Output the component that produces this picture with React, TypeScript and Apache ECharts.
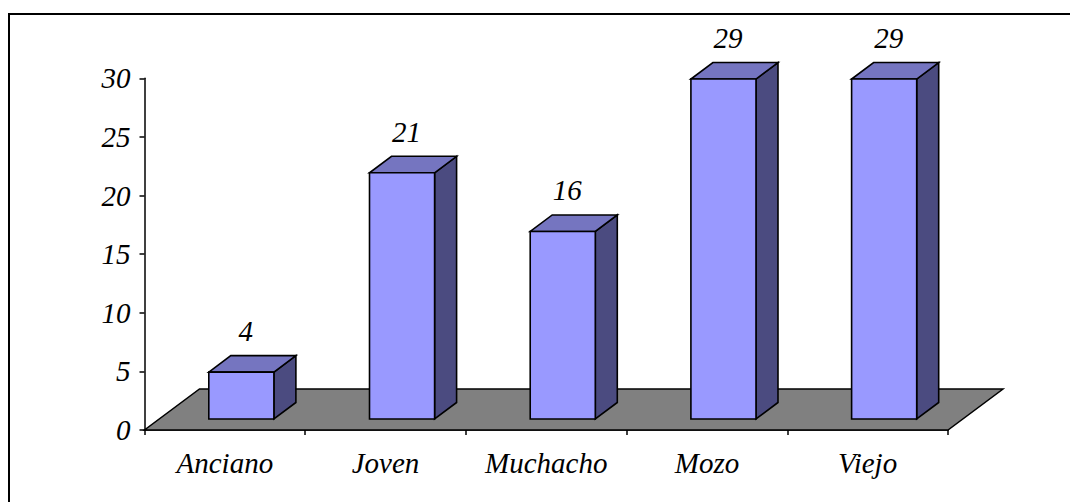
import React, { useEffect, useRef } from "react";
import * as echarts from "echarts";

// Categories and counts
const categories: string[] = ["Anciano", "Joven", "Muchacho", "Mozo", "Viejo"];
const counts: number[] = [4, 21, 16, 29, 29];

// Value axis ticks
const yMin = 0;
const yMax = 30;
const yStep = 5;

const FONT = "Liberation Serif";
const FONT_SIZE = 29;

// Oblique projection used for the 3D look
const FLOOR_DEPTH = [55, -41];
const BAR_FRONT = [16.5, -11];
const BAR_DEPTH = [22, -16.5];
const BAR_WIDTH_RATIO = 0.405;

const FRONT_COLOR = "#9999ff";
const TOP_COLOR = "#7575c0";
const SIDE_COLOR = "#4b4b80";
const FLOOR_COLOR = "#808080";
const EDGE = "#000000";

export default function App() {
  const ref = useRef<HTMLDivElement | null>(null);

  useEffect(() => {
    if (!ref.current) return;
    const chart = echarts.init(ref.current, undefined, { renderer: "svg" });

    const barData = categories.map((c, i) => [i, counts[i]]);

    const option: any = {
      animation: false,
      backgroundColor: "#ffffff",
      grid: { left: 144.5, right: 122, top: 78.3, bottom: 72, containLabel: false },
      xAxis: {
        type: "category",
        data: categories,
        boundaryGap: true,
        axisLine: { show: true, lineStyle: { color: EDGE, width: 1.5 } },
        axisTick: { show: true, length: 5, interval: 0, lineStyle: { color: EDGE, width: 1.5 } },
        axisLabel: {
          margin: 18,
          interval: 0,
          color: "#000",
          fontFamily: FONT,
          fontStyle: "italic",
          fontSize: FONT_SIZE,
        },
        splitLine: { show: false },
      },
      yAxis: {
        type: "value",
        min: yMin,
        max: yMax,
        interval: yStep,
        axisLine: { show: true, lineStyle: { color: EDGE, width: 1.5 } },
        axisTick: { show: true, length: 5, lineStyle: { color: EDGE, width: 1.5 } },
        axisLabel: {
          margin: 14,
          color: "#000",
          fontFamily: FONT,
          fontStyle: "italic",
          fontSize: FONT_SIZE,
        },
        splitLine: { show: false },
      },
      graphic: [
        {
          type: "rect",
          z: 10,
          silent: true,
          shape: { x: 9, y: 14, width: 3000, height: 3000 },
          style: { fill: "none", stroke: EDGE, lineWidth: 2 },
        },
      ],
      series: [
        {
          // floor plane under the bars
          type: "custom",
          clip: false,
          silent: true,
          data: [[0]],
          renderItem: (params: any, api: any) => {
            const band = api.size([1, 0])[0];
            const first = api.coord([0, yMin]);
            const last = api.coord([categories.length - 1, yMin]);
            const L = first[0] - band / 2;
            const R = last[0] + band / 2;
            const y0 = first[1];
            return {
              type: "polygon",
              shape: {
                points: [
                  [L, y0],
                  [R, y0],
                  [R + FLOOR_DEPTH[0], y0 + FLOOR_DEPTH[1]],
                  [L + FLOOR_DEPTH[0], y0 + FLOOR_DEPTH[1]],
                ],
              },
              style: { fill: FLOOR_COLOR, stroke: EDGE, lineWidth: 1.5, lineJoin: "miter" },
            };
          },
        },
        {
          // 3D bars with value labels
          type: "custom",
          clip: false,
          data: barData,
          renderItem: (params: any, api: any) => {
            const idx = api.value(0);
            const val = api.value(1);
            const base = api.coord([idx, yMin]);
            const top = api.coord([idx, val]);
            const band = api.size([1, 0])[0];
            const w = band * BAR_WIDTH_RATIO;
            const h = base[1] - top[1];
            const x0 = base[0] - w / 2 + BAR_FRONT[0];
            const x1 = x0 + w;
            const yb = base[1] + BAR_FRONT[1];
            const yt = yb - h;
            const dx = BAR_DEPTH[0];
            const dy = BAR_DEPTH[1];
            const edge = { stroke: EDGE, lineWidth: 1.6, lineJoin: "miter" };
            return {
              type: "group",
              children: [
                {
                  type: "polygon",
                  shape: { points: [[x1, yb], [x1, yt], [x1 + dx, yt + dy], [x1 + dx, yb + dy]] },
                  style: { fill: SIDE_COLOR, ...edge },
                },
                {
                  type: "polygon",
                  shape: { points: [[x0, yt], [x1, yt], [x1 + dx, yt + dy], [x0 + dx, yt + dy]] },
                  style: { fill: TOP_COLOR, ...edge },
                },
                {
                  type: "rect",
                  shape: { x: x0, y: yt, width: w, height: h },
                  style: { fill: FRONT_COLOR, ...edge },
                },
                {
                  type: "text",
                  x: x0 + w / 2 + 4.5,
                  y: yt - 26.5,
                  style: {
                    text: String(val),
                    fill: "#000",
                    fontFamily: FONT,
                    fontStyle: "italic",
                    fontSize: FONT_SIZE,
                    align: "center",
                    verticalAlign: "bottom",
                  },
                },
              ],
            };
          },
        },
      ],
    };

    chart.setOption(option);
    return () => {
      chart.dispose();
    };
  }, []);

  return (
    <div
      ref={ref}
      style={{ position: "fixed", left: 0, top: 0, width: 1070, height: 502, background: "#fff" }}
    />
  );
}
